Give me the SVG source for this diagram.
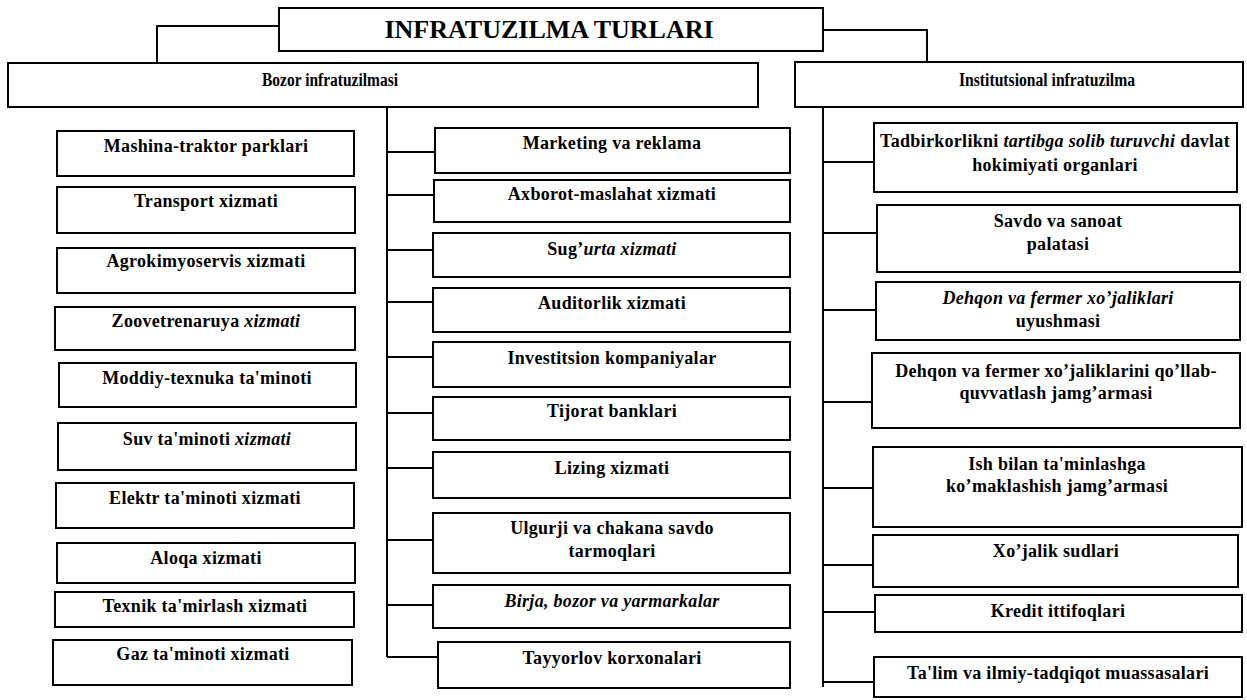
<svg xmlns="http://www.w3.org/2000/svg" width="1247" height="700" viewBox="0 0 1247 700">
<style>
.box{fill:#fff;stroke:#000;stroke-width:2}
.ln{fill:none;stroke:#000;stroke-width:2}
text{font-family:"Liberation Serif","Times New Roman",serif;font-weight:bold;font-size:18px;letter-spacing:0.3px;fill:#000;text-anchor:middle}
.title{font-size:26px;letter-spacing:0}
.hd{font-size:18px;letter-spacing:0}
.it{font-style:italic}
</style>
<rect width="1247" height="700" fill="#fff"/>
<g id="connectors">
<path class="ln" d="M279 26 H157 V63"/>
<path class="ln" d="M823 30 H927 V62"/>
<path class="ln" d="M387 107 V657"/>
<path class="ln" d="M387 152 H435 M387 195 H434 M387 250 H433 M387 302 H433 M387 357 H433 M387 413 H433 M387 468 H433 M387 540 H433 M387 605 H433 M387 657 H438"/>
<path class="ln" d="M823 107 V687"/>
<path class="ln" d="M823 162 H874 M823 233 H877 M823 310 H876 M823 402 H872 M823 488 H873 M823 565 H873 M823 612 H875 M823 682 H874"/>
</g>
<g id="n-title"><rect class="box" x="279" y="8" width="544" height="43"/><text class="title" x="549" y="38">INFRATUZILMA TURLARI</text></g>
<g id="n-bozor"><rect class="box" x="8" y="63" width="750" height="44"/><text class="hd" x="330" y="86" textLength="136" lengthAdjust="spacingAndGlyphs">Bozor infratuzilmasi</text></g>
<g id="n-inst"><rect class="box" x="795" y="62" width="448" height="45"/><text class="hd" x="1047" y="86" textLength="176" lengthAdjust="spacingAndGlyphs">Institutsional infratuzilma</text></g>

<g id="n-l1"><rect class="box" x="57" y="131" width="297" height="45"/><text x="206" y="152">Mashina-traktor parklari</text></g>
<g id="n-l2"><rect class="box" x="57" y="187" width="298" height="46"/><text x="206" y="207">Transport xizmati</text></g>
<g id="n-l3"><rect class="box" x="57" y="248" width="298" height="45"/><text x="206" y="267">Agrokimyoservis xizmati</text></g>
<g id="n-l4"><rect class="box" x="55" y="307" width="300" height="43"/><text x="206" y="327">Zoovetrenaruya <tspan class="it">xizmati</tspan></text></g>
<g id="n-l5"><rect class="box" x="59" y="363" width="297" height="44"/><text x="207" y="384">Moddiy-texnuka ta'minoti</text></g>
<g id="n-l6"><rect class="box" x="58" y="423" width="298" height="47"/><text x="207" y="445">Suv ta'minoti <tspan class="it">xizmati</tspan></text></g>
<g id="n-l7"><rect class="box" x="56" y="483" width="298" height="45"/><text x="205" y="504">Elektr ta'minoti xizmati</text></g>
<g id="n-l8"><rect class="box" x="57" y="543" width="298" height="40"/><text x="206" y="564">Aloqa xizmati</text></g>
<g id="n-l9"><rect class="box" x="55" y="592" width="299" height="35"/><text x="205" y="612">Texnik ta'mirlash xizmati</text></g>
<g id="n-l10"><rect class="box" x="53" y="640" width="299" height="45"/><text x="203" y="660">Gaz ta'minoti xizmati</text></g>

<g id="n-m1"><rect class="box" x="435" y="128" width="355" height="45"/><text x="612" y="149">Marketing va reklama</text></g>
<g id="n-m2"><rect class="box" x="434" y="180" width="356" height="42"/><text x="612" y="200">Axborot-maslahat xizmati</text></g>
<g id="n-m3"><rect class="box" x="433" y="233" width="357" height="44"/><text x="612" y="255">Sug’<tspan class="it">urta xizmati</tspan></text></g>
<g id="n-m4"><rect class="box" x="433" y="288" width="357" height="44"/><text x="612" y="309">Auditorlik xizmati</text></g>
<g id="n-m5"><rect class="box" x="433" y="342" width="357" height="45"/><text x="612" y="364">Investitsion kompaniyalar</text></g>
<g id="n-m6"><rect class="box" x="433" y="397" width="357" height="43"/><text x="612" y="417">Tijorat banklari</text></g>
<g id="n-m7"><rect class="box" x="433" y="452" width="357" height="46"/><text x="612" y="474">Lizing xizmati</text></g>
<g id="n-m8"><rect class="box" x="433" y="513" width="357" height="60"/><text x="612" y="534">Ulgurji va chakana savdo</text><text x="612" y="557">tarmoqlari</text></g>
<g id="n-m9"><rect class="box" x="433" y="585" width="357" height="43"/><text x="612" y="607"><tspan class="it">Birja, bozor va yarmarkalar</tspan></text></g>
<g id="n-m10"><rect class="box" x="438" y="642" width="352" height="46"/><text x="612" y="664">Tayyorlov korxonalari</text></g>

<g id="n-r1"><rect class="box" x="874" y="123" width="363" height="69"/><text x="1055" y="147">Tadbirkorlikni <tspan class="it">tartibga solib turuvchi</tspan> davlat</text><text x="1055" y="171">hokimiyati organlari</text></g>
<g id="n-r2"><rect class="box" x="877" y="205" width="363" height="67"/><text x="1058" y="227">Savdo va sanoat</text><text x="1058" y="250">palatasi</text></g>
<g id="n-r3"><rect class="box" x="876" y="282" width="364" height="58"/><text x="1058" y="304"><tspan class="it">Dehqon va fermer xo’jaliklari</tspan></text><text x="1058" y="327">uyushmasi</text></g>
<g id="n-r4"><rect class="box" x="872" y="353" width="368" height="75"/><text x="1056" y="377">Dehqon va fermer xo’jaliklarini  qo’llab-</text><text x="1056" y="399">quvvatlash jamg’armasi</text></g>
<g id="n-r5"><rect class="box" x="873" y="447" width="369" height="80"/><text x="1057" y="470">Ish bilan ta'minlashga</text><text x="1057" y="492">ko’maklashish jamg’armasi</text></g>
<g id="n-r6"><rect class="box" x="873" y="535" width="365" height="52"/><text x="1056" y="557">Xo’jalik sudlari</text></g>
<g id="n-r7"><rect class="box" x="875" y="595" width="367" height="37"/><text x="1058" y="617">Kredit ittifoqlari</text></g>
<g id="n-r8"><rect class="box" x="874" y="657" width="368" height="40"/><text x="1058" y="679">Ta'lim va ilmiy-tadqiqot muassasalari</text></g>
</svg>
